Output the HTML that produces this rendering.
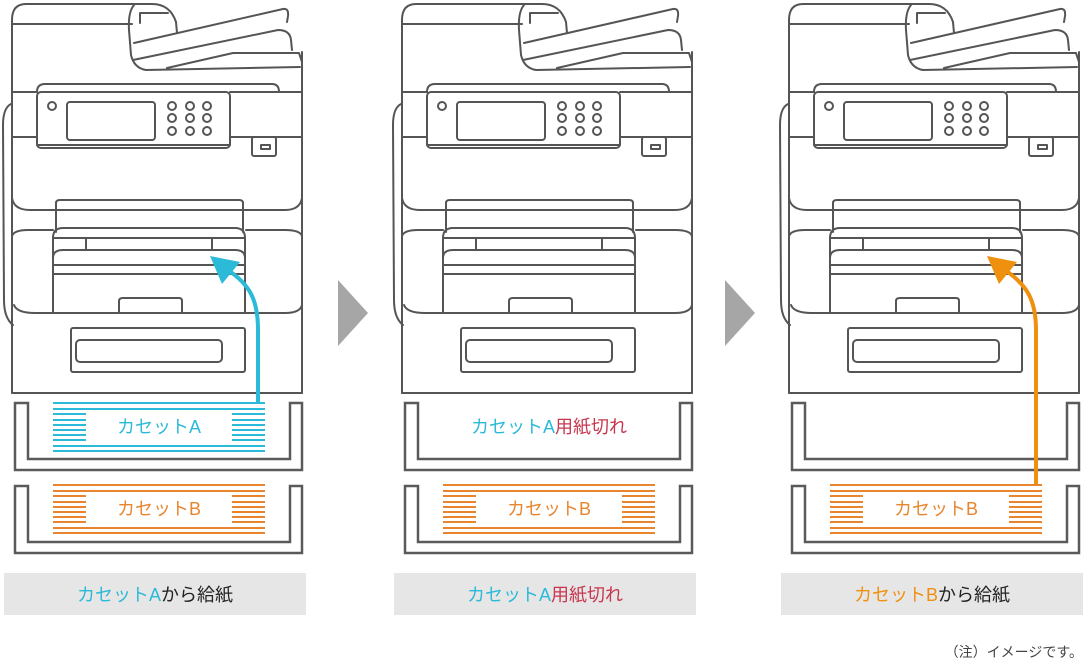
<!DOCTYPE html>
<html><head><meta charset="utf-8"><style>
html,body{margin:0;padding:0;background:#fff;}
svg{display:block}
text{font-family:"Liberation Sans","Noto Sans CJK JP",sans-serif;}
</style></head><body>
<svg width="1090" height="662" viewBox="0 0 1090 662" xmlns="http://www.w3.org/2000/svg">
<defs>
<g id="printer" fill="none" stroke="#555" stroke-width="2" stroke-linejoin="round" stroke-linecap="round">
  <path d="M12,393 L12,20 Q12,4 26,4 L152,4 Q170,4 176,22"/>
  <path d="M12,24 L132,24"/>
  <path d="M302,393 L302,52"/>
  <path d="M12,393 L302,393"/>
  <path d="M134,5 Q128,12 129,30 L131,55 Q134,68 146,70 L300,67"/>
  <path d="M140,23 L140,13 L168,13"/>
  <path d="M176,22 L177,33"/>
  <path d="M134,43 L283,9 Q289,8 288,16 L287,22"/>
  <path d="M133,60 L278,30 Q290,30 291,40 L292,50"/>
  <path d="M167,68 L233,53 L299,53 L302,62"/>
  <path d="M12,92 L37,92"/>
  <path d="M37,92 Q37,84 45,84 L272,84 Q279,84 279,92"/>
  <path d="M230,92 L302,92"/>
  <path d="M12,137 L37,137"/>
  <path d="M230,137 L302,137"/>
  <rect x="37" y="92" width="193" height="56" rx="4"/>
  <path d="M37,145 L230,145"/>
  <rect x="67" y="102" width="88" height="38" rx="3"/>
  <circle cx="52" cy="106" r="4"/>
  <circle cx="172" cy="106" r="4"/><circle cx="190" cy="106" r="4"/><circle cx="207" cy="106" r="4"/>
  <circle cx="172" cy="118" r="4"/><circle cx="190" cy="118" r="4"/><circle cx="207" cy="118" r="4"/>
  <circle cx="172" cy="131" r="4"/><circle cx="190" cy="131" r="4"/><circle cx="207" cy="131" r="4"/>
  <rect x="252" y="137" width="24" height="19" rx="2"/>
  <rect x="261" y="145" width="9" height="4"/>
  <path d="M11,104 Q3,108 3,125 L4,300 Q4,318 13,325"/>
  <path d="M12,198 Q14,210 30,210 L56,210"/>
  <path d="M243,210 L285,210 Q300,210 302,198"/>
  <path d="M56,232 L56,203 Q56,200 60,200 L239,200 Q243,200 243,203 L243,232"/>
  <path d="M56,210 L243,210"/>
  <path d="M12,236 Q14,230 28,230 L53,230"/>
  <path d="M246,230 L285,230 Q300,230 302,236"/>
  <path d="M53,312 L53,238 Q53,228 63,228 L235,228 Q245,228 245,238 L245,312"/>
  <path d="M86,238 L86,250 M212,238 L212,250"/>
  <path d="M53,238 L245,238"/>
  <path d="M53,258 Q53,250 63,250 L235,250 Q245,250 245,258"/>
  <path d="M53,265 L245,265"/>
  <path d="M53,274 L245,274"/>
  <path d="M14,305 Q17,313 35,313 L285,313 Q300,313 302,305"/>
  <path d="M119,313 L119,301 Q119,298 123,298 L179,298 Q182,298 182,301 L182,313"/>
  <rect x="71" y="328" width="174" height="44" rx="2"/>
  <rect x="76" y="340" width="146" height="22" rx="4"/>
</g>
<path id="tray" fill="none" stroke="#5a5a5a" stroke-width="2.5" stroke-linejoin="miter" d="M15,403 L28,403 L28,459 L290,459 L290,403 L302,403 L302,470 L15,470 Z"/>
<g id="linesA" stroke-width="2">
  <path d="M53,403H265M53,409H265M53,446H265M53,451H265"/>
  <path d="M53,414H86M53,420H86M53,425H86M53,430H86M53,435H86M53,440H86"/>
  <path d="M232,414H265M232,420H265M232,425H265M232,430H265M232,435H265M232,440H265"/>
</g>
</defs>

<use href="#printer"/>
<use href="#tray"/>
<use href="#tray" transform="translate(0,83)"/>
<use href="#linesA" stroke="#2bbad8"/>
<use href="#linesA" stroke="#e8862f" transform="translate(0,82)"/>
<text x="159" y="433" font-size="18" fill="#2bbad8" text-anchor="middle">カセットA</text>
<text x="159" y="515" font-size="18" fill="#e8862f" text-anchor="middle">カセットB</text>
<path d="M258,402 L258,330 C258,300 250,285 228,270" fill="none" stroke="#2bbad8" stroke-width="4"/>
<polygon points="210,256 240,262 222,284" fill="#2bbad8"/>
<rect x="4" y="573" width="302" height="42" fill="#e6e6e7"/>
<text x="155" y="601" font-size="18" text-anchor="middle"><tspan fill="#2bbad8">カセットA</tspan><tspan fill="#222">から給紙</tspan></text>

<polygon points="338,280 368,313 338,346" fill="#a6a6a6"/>

<g transform="translate(390,0)">
<use href="#printer"/>
<use href="#tray"/>
<use href="#tray" transform="translate(0,83)"/>
<use href="#linesA" stroke="#e8862f" transform="translate(0,82)"/>
<text x="159" y="433" font-size="18" text-anchor="middle"><tspan fill="#2bbad8">カセットA</tspan><tspan fill="#c8364e">用紙切れ</tspan></text>
<text x="159" y="515" font-size="18" fill="#e8862f" text-anchor="middle">カセットB</text>
<rect x="4" y="573" width="302" height="42" fill="#e6e6e7"/>
<text x="155" y="601" font-size="18" text-anchor="middle"><tspan fill="#2bbad8">カセットA</tspan><tspan fill="#c8364e">用紙切れ</tspan></text>
</g>

<polygon points="725,280 755,313 725,346" fill="#a6a6a6"/>

<g transform="translate(777,0)">
<use href="#printer"/>
<use href="#tray"/>
<use href="#tray" transform="translate(0,83)"/>
<use href="#linesA" stroke="#e8862f" transform="translate(0,82)"/>
<text x="159" y="515" font-size="18" fill="#e8862f" text-anchor="middle">カセットB</text>
<path d="M259,484 L259,330 C259,300 250,285 228,270" fill="none" stroke="#f0900f" stroke-width="4"/>
<polygon points="210,256 240,262 222,284" fill="#f0900f"/>
<rect x="4" y="573" width="302" height="42" fill="#e6e6e7"/>
<text x="155" y="601" font-size="18" text-anchor="middle"><tspan fill="#f0900f">カセットB</tspan><tspan fill="#222">から給紙</tspan></text>
</g>

<text x="1083" y="657" font-size="14" fill="#444" text-anchor="end">（注）イメージです。</text>
</svg>
</body></html>
